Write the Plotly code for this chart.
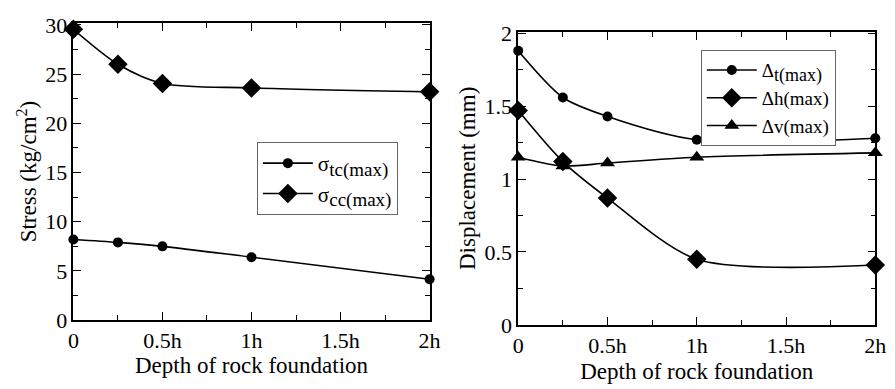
import plotly.graph_objects as go

depth = [0, 0.25, 0.5, 1.0, 2.0]
tick_vals = [0, 0.5, 1.0, 1.5, 2.0]
tick_text = ["0", "0.5h", "1h", "1.5h", "2h"]

sigma_tc = [8.2, 7.9, 7.5, 6.4, 4.15]
sigma_cc = [29.55, 26.0, 24.05, 23.6, 23.2]

delta_t = [1.88, 1.56, 1.43, 1.27, 1.28]
delta_h = [1.47, 1.12, 0.87, 0.45, 0.41]
delta_v = [1.15, 1.09, 1.11, 1.15, 1.18]

FONT = "Liberation Serif, Times New Roman, DejaVu Serif, serif"
line = dict(color="black", width=1.6, shape="spline", smoothing=0.8)

fig = go.Figure()
fig.add_trace(go.Scatter(x=depth, y=sigma_tc, mode="lines+markers", line=line, cliponaxis=False,
                         marker=dict(symbol="circle", size=10, color="black"),
                         name="σ<sub><span style='font-size:19px'>tc(max)</span></sub>",
                         xaxis="x", yaxis="y", legend="legend"))
fig.add_trace(go.Scatter(x=depth, y=sigma_cc, mode="lines+markers", line=line, cliponaxis=False,
                         marker=dict(symbol="diamond", size=15, color="black"),
                         name="σ<sub><span style='font-size:19px'>cc(max)</span></sub>",
                         xaxis="x", yaxis="y", legend="legend"))
fig.add_trace(go.Scatter(x=depth, y=delta_t, mode="lines+markers", line=line, cliponaxis=False,
                         marker=dict(symbol="circle", size=10, color="black"),
                         name="Δ<sub><span style='font-size:18px'>t(max)</span></sub>",
                         xaxis="x2", yaxis="y2", legend="legend2"))
fig.add_trace(go.Scatter(x=depth, y=delta_h, mode="lines+markers", line=line, cliponaxis=False,
                         marker=dict(symbol="diamond", size=15, color="black"),
                         name="Δh(max)", xaxis="x2", yaxis="y2", legend="legend2"))
fig.add_trace(go.Scatter(x=depth, y=delta_v, mode="lines+markers", line=line, cliponaxis=False,
                         marker=dict(symbol="triangle-up", size=13, color="black"),
                         name="Δv(max)", xaxis="x2", yaxis="y2", legend="legend2"))

def xax(domain, anchor, standoff):
    return dict(domain=domain, anchor=anchor, range=[0, 2], tickvals=tick_vals, ticktext=tick_text,
                automargin=False,
                ticks="inside", ticklen=8, tickwidth=1.2, tickcolor="black", mirror="ticks",
                showline=True, linecolor="black", linewidth=1.5, showgrid=False, zeroline=False,
                minor=dict(dtick=0.25, tick0=0, ticks="inside", ticklen=5, tickcolor="black", showgrid=False),
                tickfont=dict(family=FONT, size=22, color="black"),
                title=dict(text="Depth of rock foundation", font=dict(family=FONT, size=23, color="black"),
                           standoff=standoff))

def yax(domain, anchor, rng, dtick, title):
    return dict(domain=domain, anchor=anchor, range=rng, dtick=dtick, tick0=0,
                automargin=False,
                ticks="inside", ticklen=8, tickwidth=1.2, tickcolor="black", mirror="ticks",
                showline=True, linecolor="black", linewidth=1.5, showgrid=False, zeroline=False,
                minor=dict(dtick=dtick / 2, ticks="inside", ticklen=5, tickcolor="black", showgrid=False),
                tickfont=dict(family=FONT, size=22, color="black"),
                title=dict(text=title, font=dict(family=FONT, size=23, color="black"), standoff=2))

fig.update_layout(
    width=895, height=389,
    margin=dict(l=0, r=0, t=0, b=0, autoexpand=False),
    paper_bgcolor="white", plot_bgcolor="white",
    font=dict(family=FONT, color="black"),
    xaxis=xax([0.082, 0.480], "y", 0),
    yaxis=yax([0.177, 0.941], "x", [0, 30.2], 5, "Stress (kg/cm<sup>2</sup>)"),
    xaxis2=xax([0.579, 0.978], "y2", 6),
    yaxis2=yax([0.165, 0.918], "x2", [0, 2.01], 0.5, "Displacement (mm)"),
    legend=dict(x=0.287, y=0.635, xanchor="left", yanchor="top", bgcolor="white",
                bordercolor="#666", borderwidth=1, font=dict(family=FONT, size=21, color="black"),
                itemwidth=50, tracegroupgap=0),
    legend2=dict(x=0.783, y=0.871, xanchor="left", yanchor="top", bgcolor="white",
                 bordercolor="#666", borderwidth=1, font=dict(family=FONT, size=19, color="black"),
                 itemwidth=50, tracegroupgap=0),
    showlegend=True,
)

fig.write_html("out.html", config={"displayModeBar": False},
               post_script="document.body.style.margin='0';document.body.style.padding='0';")
